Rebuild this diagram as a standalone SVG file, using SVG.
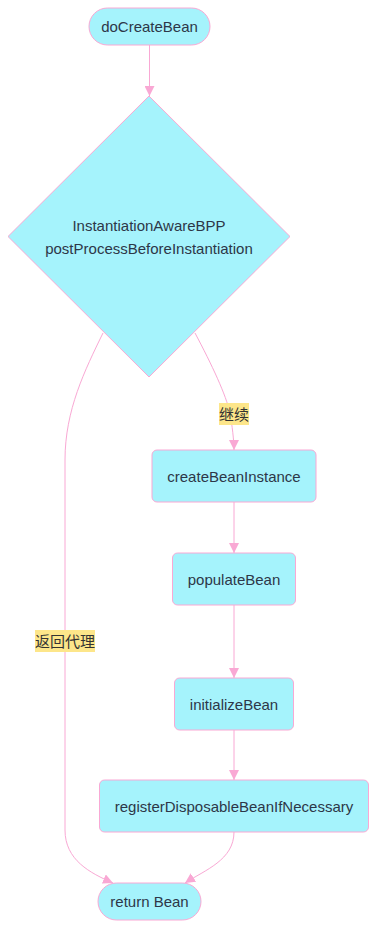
<svg xmlns="http://www.w3.org/2000/svg" width="376" height="929" viewBox="0 0 376 929">
<style>
.n{fill:#a5f3fc;stroke:#f9a8d4;stroke-width:1}
.t{font-family:"Liberation Sans",Arial,sans-serif;font-size:15px;fill:#2d3748;text-anchor:middle;dominant-baseline:central}
.e{fill:none;stroke:#f9a8d4;stroke-width:1}
.lb{fill:#fde68a}
.lt{font-family:"Liberation Sans","Noto Sans CJK SC",sans-serif;font-size:15px;fill:#333;text-anchor:middle;dominant-baseline:central}
</style>
<defs>
<marker id="a" viewBox="0 0 10 10" refX="10" refY="5" markerWidth="10" markerHeight="10" markerUnits="userSpaceOnUse" orient="auto">
<path d="M0,0L10,5L0,10z" fill="#f9a8d4"/>
</marker>
</defs>
<g id="edges">
<path class="e" d="M149.5,45V96" marker-end="url(#a)"/>
<path class="e" d="M195,333C212,365 226,395 230,413C232,425 234,440 234,450" marker-end="url(#a)"/>
<path class="e" d="M103,333C85,370 65,410 65,460V830C65,860 90,873 113,883" marker-end="url(#a)"/>
<path class="e" d="M234,502V553" marker-end="url(#a)"/>
<path class="e" d="M234,605V678" marker-end="url(#a)"/>
<path class="e" d="M234,730V780" marker-end="url(#a)"/>
<path class="e" d="M234,832C234,860 205,870 185,883" marker-end="url(#a)"/>
</g>
<g id="label-continue">
<rect class="lb" x="219" y="403" width="30" height="22"/>
<text class="lt" x="234" y="414">继续</text>
</g>
<g id="label-proxy">
<rect class="lb" x="35" y="630" width="60" height="22"/>
<text class="lt" x="65" y="641">返回代理</text>
</g>
<g id="doCreateBean">
<rect class="n" x="89" y="8" width="121" height="37" rx="18.5"/>
<text class="t" x="149.5" y="26.5">doCreateBean</text>
</g>
<g id="decision">
<polygon class="n" points="149,96 290,236.5 149,377 8,236.5"/>
<text class="t" x="149" y="225">InstantiationAwareBPP</text>
<text class="t" x="149" y="248">postProcessBeforeInstantiation</text>
</g>
<g id="createBeanInstance">
<rect class="n" x="152" y="450" width="164" height="52" rx="5"/>
<text class="t" x="234" y="476">createBeanInstance</text>
</g>
<g id="populateBean">
<rect class="n" x="172.5" y="553" width="123" height="52" rx="5"/>
<text class="t" x="234" y="579">populateBean</text>
</g>
<g id="initializeBean">
<rect class="n" x="174.5" y="678" width="119" height="52" rx="5"/>
<text class="t" x="234" y="704">initializeBean</text>
</g>
<g id="registerDisposableBeanIfNecessary">
<rect class="n" x="99.5" y="780" width="269" height="52" rx="5"/>
<text class="t" x="234" y="806">registerDisposableBeanIfNecessary</text>
</g>
<g id="returnBean">
<rect class="n" x="98" y="883" width="103" height="37" rx="18.5"/>
<text class="t" x="149.5" y="901.5">return Bean</text>
</g>
</svg>
